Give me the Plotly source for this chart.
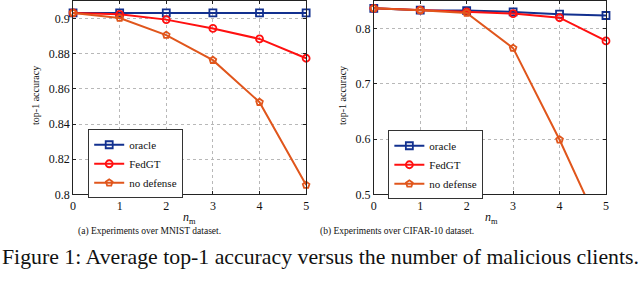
import plotly.graph_objects as go

W, H = 640, 283

x_vals = [0, 1, 2, 3, 4, 5]
series_names = ["oracle", "FedGT", "no defense"]

mnist_oracle = [0.9033, 0.9033, 0.9033, 0.9033, 0.9033, 0.9033]
mnist_fedgt = [0.9033, 0.9025, 0.8995, 0.8945, 0.8885, 0.8775]
mnist_nodef = [0.9033, 0.9004, 0.8907, 0.8764, 0.8525, 0.8053]

cifar_oracle = [0.837, 0.8336, 0.8330, 0.8305, 0.8264, 0.8240]
cifar_fedgt = [0.837, 0.8336, 0.8305, 0.8275, 0.8200, 0.7780]
cifar_nodef = [0.837, 0.8336, 0.8287, 0.7650, 0.5990, 0.4160]

mnist_yticks = [0.8, 0.82, 0.84, 0.86, 0.88, 0.9]
mnist_yticktext = ["0.8", "0.82", "0.84", "0.86", "0.88", "0.9"]
cifar_yticks = [0.5, 0.6, 0.7, 0.8]
cifar_yticktext = ["0.5", "0.6", "0.7", "0.8"]

mnist_yrange = [0.8, 0.9101]
cifar_yrange = [0.5, 0.8503]

caption_a = "(a) Experiments over MNIST dataset."
caption_b = "(b) Experiments over CIFAR-10 dataset."
fig_caption = "Figure 1: Average top-1 accuracy versus the number of malicious clients."
y_title = "top-1 accuracy"
x_title = "<i>n</i><sub>m</sub>"

colors = ["#12308f", "#ff1010", "#e0561c"]
symbols = ["square-open", "circle-open", "pentagon-open"]
FONT = "Liberation Serif"

fig = go.Figure()


def marker(idx):
    return dict(symbol=symbols[idx], size=7, color=colors[idx],
                line=dict(width=1.8, color=colors[idx]))


def add_series(vals, idx, xa, ya, legend, yr):
    # clipped line
    fig.add_trace(go.Scatter(
        x=x_vals, y=vals, mode="lines", xaxis=xa, yaxis=ya,
        line=dict(color=colors[idx], width=2), showlegend=False,
        hoverinfo="skip"))
    # markers (not clipped at the frame, hidden when outside the axis range)
    shown = [v if yr[0] <= v <= yr[1] else None for v in vals]
    fig.add_trace(go.Scatter(
        x=x_vals, y=shown, mode="markers", xaxis=xa, yaxis=ya,
        showlegend=False, cliponaxis=False, marker=marker(idx)))
    # legend entry (line + marker)
    fig.add_trace(go.Scatter(
        x=[None], y=[None], mode="lines+markers", xaxis=xa, yaxis=ya,
        name=series_names[idx], legend=legend,
        line=dict(color=colors[idx], width=2), marker=marker(idx)))


for i, v in enumerate([mnist_oracle, mnist_fedgt, mnist_nodef]):
    add_series(v, i, "x", "y", "legend", mnist_yrange)
for i, v in enumerate([cifar_oracle, cifar_fedgt, cifar_nodef]):
    add_series(v, i, "x2", "y2", "legend2", cifar_yrange)

ybot = 1 - 199 / H
common_x = dict(range=[0, 5], tickvals=x_vals, showline=True, linecolor="#222",
                linewidth=1, mirror="allticks", ticks="inside", ticklen=3,
                tickcolor="#222", showgrid=True, gridcolor="#b8b8b8",
                griddash="dot", gridwidth=1, zeroline=False,
                tickfont=dict(family=FONT, size=12, color="#111"))
common_y = dict(showline=True, linecolor="#222", linewidth=1, mirror="allticks",
                ticks="inside", ticklen=3, tickcolor="#222", showgrid=True,
                gridcolor="#b8b8b8", griddash="dot", gridwidth=1, zeroline=False,
                tickfont=dict(family=FONT, size=12, color="#111"))

leg_common = dict(xanchor="left", yanchor="top", bgcolor="white",
                  bordercolor="#333", borderwidth=1,
                  font=dict(family=FONT, size=11, color="#111"),
                  tracegroupgap=0, itemwidth=30)

fig.update_layout(
    width=W, height=H, margin=dict(l=0, r=0, t=0, b=0),
    paper_bgcolor="white", plot_bgcolor="white",
    font=dict(family=FONT, color="#111"),
    xaxis=dict(domain=[70.7 / W, 306 / W], anchor="y", **common_x),
    yaxis=dict(domain=[ybot, 1], anchor="x", range=mnist_yrange,
               tickvals=mnist_yticks, ticktext=mnist_yticktext, **common_y),
    xaxis2=dict(domain=[374.3 / W, 608.7 / W], anchor="y2", **common_x),
    yaxis2=dict(domain=[ybot, 1], anchor="x2", range=cifar_yrange,
                tickvals=cifar_yticks, ticktext=cifar_yticktext, **common_y),
    legend=dict(x=86 / W, y=1 - 132 / H, **leg_common),
    legend2=dict(x=389 / W, y=1 - 133 / H, **leg_common),
    showlegend=True,
)

ann = []
ann.append(dict(text=y_title, x=33 / W, y=1 - 97 / H, textangle=-90,
                font=dict(size=10)))
ann.append(dict(text=y_title, x=342 / W, y=1 - 97 / H, textangle=-90,
                font=dict(size=10)))
ann.append(dict(text=x_title, x=188 / W, y=1 - 223 / H, font=dict(size=12)))
ann.append(dict(text=x_title, x=493 / W, y=1 - 223 / H, font=dict(size=12)))
ann.append(dict(text=caption_a, x=148 / W, y=1 - 237 / H, font=dict(size=9.5)))
ann.append(dict(text=caption_b, x=398 / W, y=1 - 237 / H, font=dict(size=9.5)))
ann.append(dict(text=fig_caption, x=320 / W, y=1 - 263 / H, font=dict(size=21.8)))
for a in ann:
    a.update(xref="paper", yref="paper", showarrow=False, xanchor="center",
             yanchor="middle")
fig.update_layout(annotations=ann)

fig.write_html(
    "out.html",
    config={"displayModeBar": False},
    post_script="document.body.style.margin='0';"
                "document.body.style.overflow='hidden';"
                "document.documentElement.style.overflow='hidden';")
